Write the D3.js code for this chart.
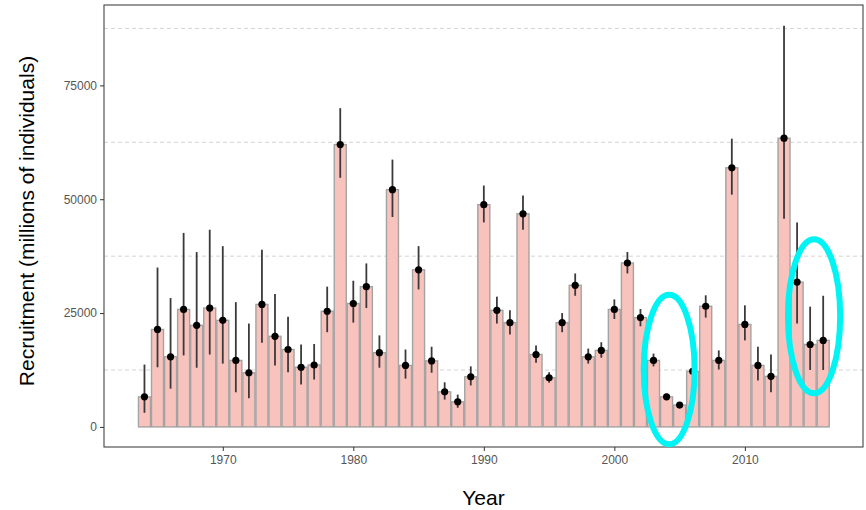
<!DOCTYPE html>
<html>
<head>
<meta charset="utf-8">
<script src="https://cdn.jsdelivr.net/npm/d3@7"></script>
<style>
	body { margin: 0; background: #fff; }
	svg { display: block; font-family: "Liberation Sans", Arial, sans-serif; }
	.tick text { fill: #555; font-size: 12px; }
	.tick line { stroke: #333; }
	.domain { display: none; }
</style>
</head>
<body>
<svg id="chart" width="866" height="510"></svg>
<script>
// recruitment estimates per year, with lower / upper bounds of the error bar
const years = [1964, 1965, 1966, 1967, 1968, 1969, 1970, 1971, 1972, 1973,
	1974, 1975, 1976, 1977, 1978, 1979, 1980, 1981, 1982, 1983,
	1984, 1985, 1986, 1987, 1988, 1989, 1990, 1991, 1992, 1993,
	1994, 1995, 1996, 1997, 1998, 1999, 2000, 2001, 2002, 2003,
	2004, 2005, 2006, 2007, 2008, 2009, 2010, 2011, 2012, 2013,
	2014, 2015, 2016];
const recruitment = [6600, 21400, 15400, 25800, 22300, 26100, 23400, 14600, 11900, 26900,
	19900, 17000, 13100, 13600, 25400, 62000, 27100, 30800, 16300, 52100,
	13500, 34500, 14500, 7700, 5500, 11000, 48800, 25600, 22900, 46800,
	15900, 10800, 22900, 31100, 15400, 16800, 25800, 36000, 24000, 14600,
	6600, 4800, 12200, 26500, 14600, 56900, 22500, 13500, 11100, 63400,
	31800, 18100, 19000];
const lower = [3100, 13100, 8400, 15700, 13000, 15900, 13900, 7600, 6300, 18500,
	13500, 12000, 9300, 10400, 20800, 54700, 22900, 26100, 13000, 46100,
	10600, 30200, 11900, 6000, 4200, 9100, 44900, 22700, 20300, 43300,
	14100, 9700, 20800, 28800, 13900, 15200, 23700, 33700, 22100, 13300,
	6000, 4300, 11600, 24000, 12600, 51000, 19000, 10200, 7600, 45700,
	22700, 12500, 12500];
const upper = [13700, 35000, 28300, 42600, 38400, 43300, 39700, 27400, 22700, 38900,
	29200, 24200, 18100, 18200, 30800, 70000, 32100, 35900, 20100, 58700,
	17000, 39700, 17600, 9800, 7100, 13300, 53000, 28600, 25600, 50800,
	17900, 12000, 25000, 33700, 17200, 18600, 28000, 38400, 25900, 16100,
	7300, 5300, 12800, 28900, 16800, 63300, 26700, 17600, 15900, 88100,
	44900, 26400, 28800];

const yTicks = [0, 25000, 50000, 75000];
const yMinor = [12500, 37500, 62500, 87500];
const xTicks = [1970, 1980, 1990, 2000, 2010];

// hand-drawn highlight rings: centre year, centre value, half-width in years, half-height in value
const ringYear = [2004.2, 2015.3];
const ringValue = [12600, 24300];
const ringHalfYears = [1.95, 2.0];
const ringHalfValue = [16400, 16900];

const rows = years.map(function(y, i) {
	return { year: y, value: recruitment[i], lo: lower[i], hi: upper[i] };
});

const panel = { left: 104, top: 5, right: 863, bottom: 447 };
const svg = d3.select("#chart");

// ggplot style 5% expansion
const xScale = d3.scaleLinear()
	.domain([1960.9, 2019.05])
	.range([panel.left, panel.right]);
const yScale = d3.scaleLinear()
	.domain([-4410, 92650])
	.range([panel.bottom, panel.top]);

const barW = (xScale(1) - xScale(0)) * 0.92;

// dashed minor grid
svg.append("g")
	.selectAll("line")
	.data(yMinor)
	.enter().append("line")
	.attr("x1", panel.left)
	.attr("x2", panel.right)
	.attr("y1", d => yScale(d))
	.attr("y2", d => yScale(d))
	.attr("stroke", "#d4d4d4")
	.attr("stroke-width", 1)
	.attr("stroke-dasharray", "4,3");

// bars
svg.append("g")
	.selectAll("rect")
	.data(rows)
	.enter().append("rect")
	.attr("x", d => xScale(d.year) - barW / 2)
	.attr("width", barW)
	.attr("y", d => yScale(d.value))
	.attr("height", d => yScale(0) - yScale(d.value))
	.attr("fill", "#f9c3bd")
	.attr("stroke", "#a3a3a3")
	.attr("stroke-width", 1.4);

// error bars
svg.append("g")
	.selectAll("line")
	.data(rows)
	.enter().append("line")
	.attr("x1", d => xScale(d.year))
	.attr("x2", d => xScale(d.year))
	.attr("y1", d => yScale(d.lo))
	.attr("y2", d => yScale(d.hi))
	.attr("stroke", "#3a3a3a")
	.attr("stroke-width", 1.8);

// point estimates
svg.append("g")
	.selectAll("circle")
	.data(rows)
	.enter().append("circle")
	.attr("cx", d => xScale(d.year))
	.attr("cy", d => yScale(d.value))
	.attr("r", 3.6)
	.attr("fill", "#000");

// panel border
svg.append("rect")
	.attr("x", panel.left)
	.attr("y", panel.top)
	.attr("width", panel.right - panel.left)
	.attr("height", panel.bottom - panel.top)
	.attr("fill", "none")
	.attr("stroke", "#444")
	.attr("stroke-width", 1.1);

// axes
svg.append("g")
	.attr("transform", "translate(" + panel.left + ",0)")
	.call(d3.axisLeft(yScale).tickValues(yTicks).tickSize(4).tickPadding(3).tickFormat(d3.format("d")));

svg.append("g")
	.attr("transform", "translate(0," + panel.bottom + ")")
	.call(d3.axisBottom(xScale).tickValues(xTicks).tickSize(4).tickPadding(4).tickFormat(d3.format("d")));

// axis titles
svg.append("text")
	.attr("transform", "translate(34," + ((panel.top + panel.bottom) / 2 - 5) + ") rotate(-90)")
	.attr("text-anchor", "middle")
	.attr("font-size", 21)
	.attr("fill", "#000")
	.text("Recruitment (millions of individuals)");

svg.append("text")
	.attr("x", (panel.left + panel.right) / 2)
	.attr("y", 505)
	.attr("text-anchor", "middle")
	.attr("font-size", 21)
	.attr("fill", "#000")
	.text("Year");

// cyan highlight rings
svg.append("g")
	.selectAll("ellipse")
	.data(ringYear.map((y, i) => i))
	.enter().append("ellipse")
	.attr("cx", i => xScale(ringYear[i]))
	.attr("cy", i => yScale(ringValue[i]))
	.attr("rx", i => xScale(ringHalfYears[i]) - xScale(0))
	.attr("ry", i => yScale(0) - yScale(ringHalfValue[i]))
	.attr("fill", "none")
	.attr("stroke", "#00f4f4")
	.attr("stroke-width", 6);
</script>
</body>
</html>
